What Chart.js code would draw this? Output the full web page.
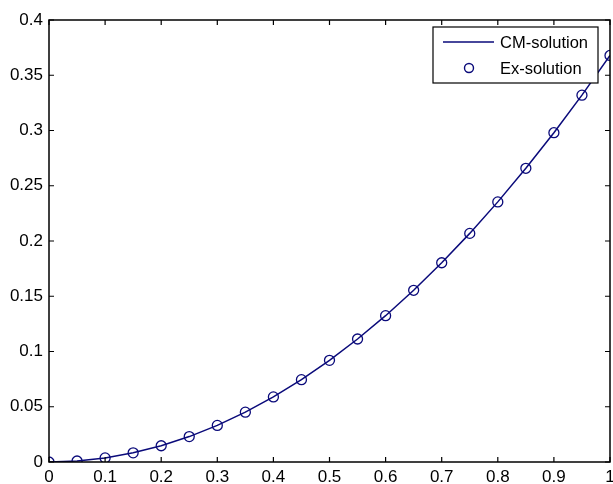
<!DOCTYPE html>
<html>
<head>
<meta charset="utf-8">
<script src="https://cdn.jsdelivr.net/npm/chart.js@4"></script>
<style>
html,body{margin:0;padding:0;background:#fff;overflow:hidden;}
canvas{display:block;}
</style>
</head>
<body>
<canvas id="c" width="613" height="484" style="width:613px;height:484px"></canvas>
<script>
const xValues = [0,0.05,0.1,0.15,0.2,0.25,0.3,0.35,0.4,0.45,0.5,0.55,0.6,0.65,0.7,0.75,0.8,0.85,0.9,0.95,1];
const cmSolution = [0,0.0009,0.0037,0.0083,0.0147,0.023,0.0331,0.0451,0.0589,0.0745,0.092,0.1113,0.1324,0.1554,0.1803,0.2069,0.2354,0.2658,0.298,0.332,0.3679];
const exSolution = [0,0.0009,0.0037,0.0083,0.0147,0.023,0.0331,0.0451,0.0589,0.0745,0.092,0.1113,0.1324,0.1554,0.1803,0.2069,0.2354,0.2658,0.298,0.332,0.3679];
const xTicks = [0,0.1,0.2,0.3,0.4,0.5,0.6,0.7,0.8,0.9,1];
const yTicks = [0,0.05,0.1,0.15,0.2,0.25,0.3,0.35,0.4];
const seriesLabels = ['CM-solution','Ex-solution'];
const NAVY = '#0a0a7a';
const FONT = 'Liberation Sans, Arial, sans-serif';

const framePlugin = {
  id: 'frame',
  afterDatasetsDraw(chart) {
    const {ctx, chartArea: a, scales: {x, y}} = chart;
    ctx.save();
    ctx.strokeStyle = '#000';
    ctx.lineWidth = 1.5;
    ctx.strokeRect(a.left, a.top, a.right - a.left, a.bottom - a.top);
    ctx.lineWidth = 1.2;
    const L = 5;
    ctx.beginPath();
    xTicks.forEach(v => {
      const px = x.getPixelForValue(v);
      ctx.moveTo(px, a.bottom); ctx.lineTo(px, a.bottom - L);
      ctx.moveTo(px, a.top); ctx.lineTo(px, a.top + L);
    });
    yTicks.forEach(v => {
      const py = y.getPixelForValue(v);
      ctx.moveTo(a.left, py); ctx.lineTo(a.left + L, py);
      ctx.moveTo(a.right, py); ctx.lineTo(a.right - L, py);
    });
    ctx.stroke();

    // legend
    const bx = 433, by = 27, bw = 165, bh = 56;
    ctx.fillStyle = '#fff';
    ctx.fillRect(bx, by, bw, bh);
    ctx.strokeStyle = '#000';
    ctx.lineWidth = 1.2;
    ctx.strokeRect(bx, by, bw, bh);
    ctx.strokeStyle = NAVY;
    ctx.lineWidth = 1.4;
    ctx.beginPath();
    ctx.moveTo(443, 42); ctx.lineTo(494, 42);
    ctx.stroke();
    ctx.beginPath();
    ctx.arc(469, 68, 4.5, 0, Math.PI * 2);
    ctx.stroke();
    ctx.fillStyle = '#000';
    ctx.font = '16.5px ' + FONT;
    ctx.textBaseline = 'middle';
    ctx.textAlign = 'left';
    ctx.fillText(chart.data.datasets[0].label, 500, 43);
    ctx.fillText(chart.data.datasets[1].label, 500, 69);
    ctx.restore();
  }
};

new Chart(document.getElementById('c'), {
  type: 'scatter',
  data: {
    datasets: [
      {
        label: seriesLabels[0],
        data: xValues.map((v, i) => ({x: v, y: cmSolution[i]})),
        showLine: true,
        borderColor: NAVY,
        borderWidth: 1.5,
        pointRadius: 0,
        fill: false,
        tension: 0
      },
      {
        label: seriesLabels[1],
        data: xValues.map((v, i) => ({x: v, y: exSolution[i]})),
        showLine: false,
        pointStyle: 'circle',
        pointRadius: 5,
        pointBorderWidth: 1.3,
        pointBorderColor: NAVY,
        pointBackgroundColor: 'rgba(0,0,0,0)'
      }
    ]
  },
  options: {
    responsive: false,
    animation: false,
    devicePixelRatio: 1,
    layout: {autoPadding: false, padding: {top: 20, right: 3, left: 0, bottom: 0}},
    plugins: {legend: {display: false}, tooltip: {enabled: false}},
    scales: {
      x: {
        type: 'linear', min: 0, max: 1,
        afterBuildTicks(s) { s.ticks = xTicks.map(v => ({value: v})); },
        afterFit(s) { s.height = 22; s.paddingLeft = 0; s.paddingRight = 0; },
        grid: {display: false, drawTicks: false},
        border: {display: false},
        ticks: {
          color: '#000', padding: 5, maxRotation: 0, autoSkip: false,
          font: {family: FONT, size: 17},
          callback: v => String(v)
        }
      },
      y: {
        type: 'linear', min: 0, max: 0.4,
        afterBuildTicks(s) { s.ticks = yTicks.map(v => ({value: v})); },
        afterFit(s) { s.width = 49; s.paddingTop = 0; s.paddingBottom = 0; },
        grid: {display: false, drawTicks: false},
        border: {display: false},
        ticks: {
          color: '#000', padding: 6, autoSkip: false,
          font: {family: FONT, size: 17},
          callback: v => String(v)
        }
      }
    }
  },
  plugins: [framePlugin]
});
</script>
</body>
</html>
